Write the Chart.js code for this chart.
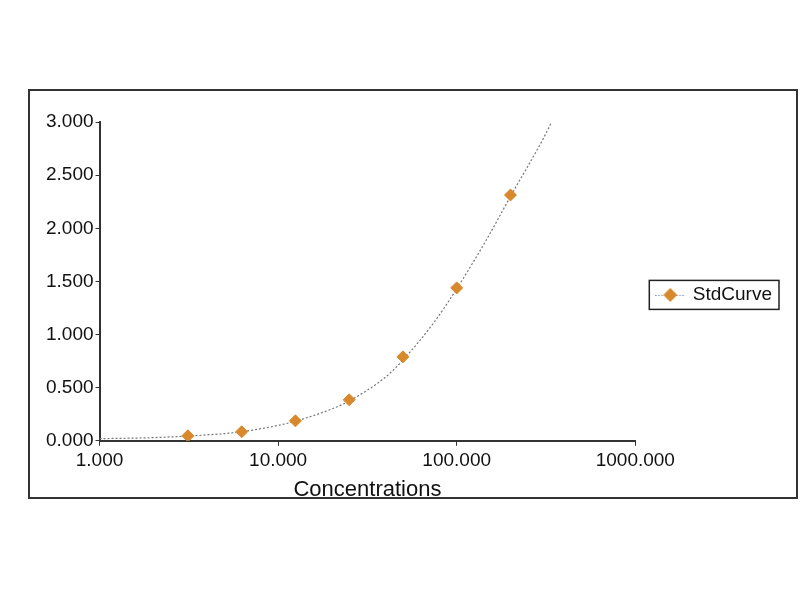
<!DOCTYPE html>
<html>
<head>
<meta charset="utf-8">
<script src="https://cdn.jsdelivr.net/npm/chart.js@4"></script>
<style>
  body { margin: 0; background: #fff; }
  .frame {
    position: absolute; left: 28px; top: 89px;
    width: 766px; height: 406px;
    border: 2px solid #333;
  }
  canvas { position: absolute; left: 0; top: 0; }
</style>
</head>
<body>
<div class="frame"></div>
<canvas id="chart" width="800" height="600"></canvas>
<script>
// standards (measured points)
const concentrations = [3.125, 6.25, 12.5, 25, 50, 100, 200];
const absorbance = [0.047, 0.085, 0.188, 0.386, 0.79, 1.439, 2.313];

// fitted curve
const curveX = [1, 2, 3.125, 5, 6.25, 10, 12.5, 20, 25, 40, 50, 75, 100, 150, 200, 300, 340];
const curveY = [0.02, 0.03, 0.045, 0.068, 0.085, 0.145, 0.185, 0.3, 0.375, 0.6, 0.76, 1.12, 1.43, 1.92, 2.3, 2.82, 3.0];

const xTickValues = [1, 10, 100, 1000];
const seriesLabel = "StdCurve";
const xTitle = "Concentrations";

const orange = "#d8892c";
const axisColor = "#333";
const font = { family: "Arial, 'Liberation Sans', sans-serif", size: 19 };

const toPoints = (xs, ys) => xs.map((x, i) => ({ x: x, y: ys[i] }));

// legend marker: dotted line with a diamond on it
const marker = document.createElement("canvas");
marker.width = 30;
marker.height = 16;
{
  const m = marker.getContext("2d");
  m.strokeStyle = "#7f96b0";
  m.lineWidth = 1.2;
  m.setLineDash([1.5, 1.5]);
  m.beginPath();
  m.moveTo(0, 8.5);
  m.lineTo(30, 8.5);
  m.stroke();
  m.fillStyle = orange;
  m.beginPath();
  m.moveTo(15, 1);
  m.lineTo(22, 8);
  m.lineTo(15, 15);
  m.lineTo(8, 8);
  m.closePath();
  m.fill();
}

// border round the legend item
const legendBox = {
  id: "legendBox",
  afterDraw(chart) {
    const boxes = chart.legend.legendHitBoxes;
    if (!boxes || !boxes.length) return;
    const b = boxes[0];
    const ctx = chart.ctx;
    ctx.save();
    ctx.strokeStyle = "#222";
    ctx.lineWidth = 1.5;
    ctx.strokeRect(b.left - 8, b.top - 5, b.width + 15, b.height + 10);
    ctx.restore();
  },
};

new Chart(document.querySelector("#chart").getContext("2d"), {
  type: "scatter",
  data: {
    datasets: [
      {
        label: seriesLabel,
        data: toPoints(concentrations, absorbance),
        pointStyle: "rectRot",
        pointRadius: 6,
        backgroundColor: orange,
        borderColor: orange,
        showLine: false,
        order: 0,
      },
      {
        label: "fit",
        data: toPoints(curveX, curveY),
        showLine: true,
        pointRadius: 0,
        borderColor: "#777",
        borderWidth: 1.2,
        borderDash: [2, 2],
        cubicInterpolationMode: "monotone",
        order: 1,
      },
    ],
  },
  options: {
    responsive: false,
    animation: false,
    layout: { padding: { left: 44, top: 122, right: 18, bottom: 97 } },
    plugins: {
      legend: {
        position: "right",
        fullSize: false,
        title: {
          display: true,
          text: "",
          font: { size: 10 },
          padding: { top: 15, bottom: 0 },
        },
        labels: {
          usePointStyle: true,
          pointStyleWidth: 26,
          boxHeight: 11,
          color: "#111",
          font: font,
          padding: 22,
          filter: (item) => item.datasetIndex === 0,
          generateLabels: (chart) =>
            Chart.defaults.plugins.legend.labels
              .generateLabels(chart)
              .map((item) => Object.assign(item, { pointStyle: marker })),
        },
      },
      tooltip: { enabled: false },
    },
    scales: {
      x: {
        type: "logarithmic",
        min: 1,
        max: 1000,
        afterBuildTicks: (scale) => {
          scale.ticks = xTickValues.map((v) => ({ value: v }));
        },
        ticks: {
          color: "#111",
          font: font,
          maxRotation: 0,
          padding: 4,
          callback: (v) => Number(v).toFixed(3),
        },
        grid: { drawOnChartArea: false, tickLength: 5, color: axisColor },
        border: { color: axisColor, width: 2 },
        title: {
          display: true,
          text: xTitle,
          color: "#111",
          font: { family: font.family, size: 22 },
          padding: { top: 0, bottom: 0 },
        },
      },
      y: {
        min: 0,
        max: 3,
        ticks: {
          stepSize: 0.5,
          color: "#111",
          font: font,
          padding: 2,
          callback: (v) => Number(v).toFixed(3),
        },
        grid: { drawOnChartArea: false, tickLength: 4, color: axisColor },
        border: { color: axisColor, width: 2 },
      },
    },
  },
  plugins: [legendBox],
});
</script>
</body>
</html>
